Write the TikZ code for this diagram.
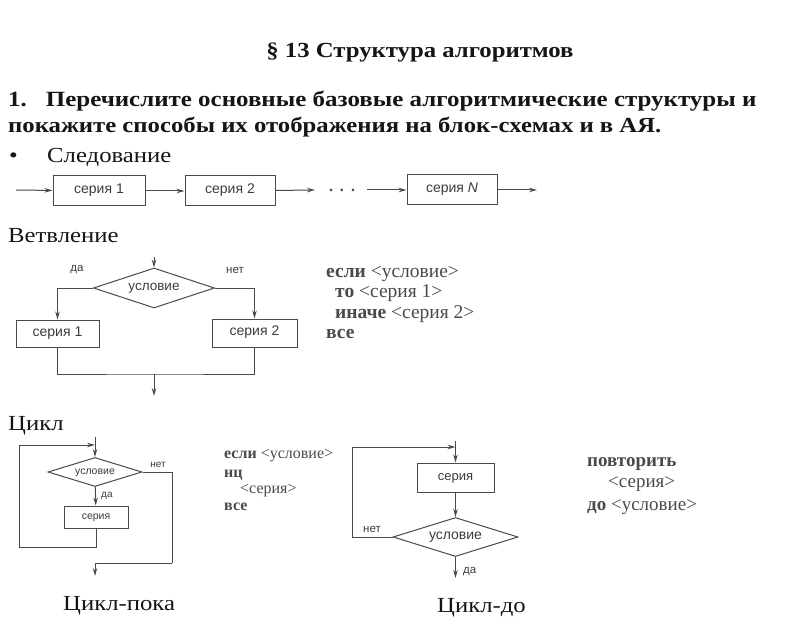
\documentclass[tikz,border=0pt]{standalone}
\usepackage{fontspec}
\setmainfont{Liberation Serif}
\newfontfamily\bookfont[FakeStretch=1.15]{Liberation Serif}
\newfontfamily\diagfont{Liberation Sans}
\usepackage{tikz}
\usetikzlibrary{positioning,shapes.geometric,arrows.meta}
\definecolor{ink}{HTML}{151515}
\definecolor{wire}{HTML}{4A4A4A}
\definecolor{tag}{HTML}{3C3C3C}
\definecolor{code}{HTML}{4A4A4A}
\tikzset{
  blk/.style={draw=wire,line width=1pt,inner sep=0pt,text height=0.62em,text depth=0.05em,text=tag,font=\diagfont\fontsize{14}{16}\selectfont},
  cnd/.style={draw=wire,line width=1pt,diamond,aspect=3,inner sep=0pt,text height=0.62em,text depth=0.05em,text=tag,font=\diagfont\fontsize{13.5}{15}\selectfont},
  flow/.style={wire,line width=1pt,-{Stealth[length=8pt,width=4.5pt]}},
  wirel/.style={wire,line width=1pt},
  tagl/.style={text=tag,font=\diagfont\fontsize{11.5}{13}\selectfont,inner sep=0pt},
  head/.style={anchor=base west,text=ink,inner sep=0pt,font=\bookfont\fontsize{21.5}{24}\selectfont},
  codel/.style={anchor=base west,text=code,inner sep=0pt,font=\fontsize{19.5}{22}\selectfont},
}
\begin{document}
\begin{tikzpicture}[x=1pt,y=-1pt]
      \useasboundingbox[fill=white](0,0) rectangle(794,644);
      % heading and question
      \node[anchor=base,text=ink,font=\bookfont\bfseries\fontsize{21.5}{26}\selectfont] (title) at (420,58) {§ 13 Структура алгоритмов};
      \node[head,font=\bookfont\bfseries\fontsize{21.7}{24}\selectfont] (q1) at (8,107) {1.\hspace{19pt}Перечислите основные базовые алгоритмические структуры и};
      \node[head,font=\bookfont\bfseries\fontsize{21.5}{24}\selectfont] (q2) at (8,133) {покажите способы их отображения на блок-схемах и в АЯ.};
      \node[head] (bul) at (9,163) {•}; \node[head] (hseq) at (47,163) {Следование};
      % sequence
      \coordinate (in0) at (16,190); \coordinate (out0) at (537,190);
      \node[blk,minimum width=92pt,minimum height=30pt] (s1) at (99,191) {серия 1};
      \node[blk,minimum width=90pt,minimum height=30pt] (s2) at (230,191) {серия 2};
      \node[blk,minimum width=90pt,minimum height=30pt] (sN) at (452,190) {серия \textit{N}};
      \coordinate (d1) at (315,190); \coordinate (d2) at (367,190);
      \node[text=wire,font=\bfseries\fontsize{16}{16}\selectfont,inner sep=0pt] (dots) at (342,190) {.\hspace{7pt}.\hspace{7pt}.};
      \draw[flow](in0)--(s1); \draw[flow](s1)--(s2); \draw[flow](s2)--(d1);
      \draw[flow](d2)--(sN); \draw[flow](sN)--(out0);
      % branching
      \node[head] (hbr) at (8,243) {Ветвление};
      \node[cnd,minimum width=121pt,minimum height=40pt] (bc) at (154,288) {условие};
      \node[blk,minimum width=83pt,minimum height=27pt] (b1) at (57.5,333.5) {серия 1};
      \node[blk,minimum width=85pt,minimum height=28pt] (b2) at (254.5,333) {серия 2};
      \node[tagl] (byes) at (77,270) {да}; \node[tagl] (bno) at (235,270) {нет};
      \coordinate (bin) at (154,257); \coordinate (bj) at (154,374); \coordinate (bout) at (154,396);
      \draw[flow](bin)--(bc); \draw[flow](bc.west)-|(b1); \draw[flow](bc.east)-|(b2);
      \draw[wirel](b1)|-(bj)-|(b2); \draw[flow](bj)--(bout);
      \node[codel] (bk1) at (326,277) {\textbf{если} <условие>};
      \node[codel] (bk2) at (335,297.5) {\textbf{то} <серия 1>};
      \node[codel] (bk3) at (335,318) {\textbf{иначе} <серия 2>};
      \node[codel] (bk4) at (326,338.5) {\textbf{все}};
      % loops
      \node[head] (hcy) at (8,430) {Цикл};
      \node[cnd,minimum width=94pt,minimum height=29pt,font=\diagfont\fontsize{10.5}{12}\selectfont] (wc) at (95,472) {условие};
      \node[blk,minimum width=64pt,minimum height=22pt,font=\diagfont\fontsize{10.5}{12}\selectfont] (wb) at (96,517) {серия};
      \coordinate (wtop) at (95,437); \coordinate (wjoin) at (95,445); \coordinate (wl) at (19,547);
      \coordinate (wr) at (172,563); \coordinate (wout) at (95,576);
      \draw[flow](wtop)--(wc); \draw[flow](wc)--(wb);
      \draw[flow](wb.south)|-(wl)|-(wjoin);
      \draw[wirel](wc.east)-|(wr); \draw[flow](wr)-|(wout);
      \node[tagl,anchor=west,font=\diagfont\fontsize{10}{12}\selectfont] (wyes) at (101,496) {да};
      \node[tagl,font=\diagfont\fontsize{10}{12}\selectfont] (wno) at (158,465) {нет};
      \node[codel,font=\fontsize{16}{18}\selectfont] (wk1) at (224,458) {\textbf{если} <условие>};
      \node[codel,font=\fontsize{16}{18}\selectfont] (wk2) at (224,477) {\textbf{нц}};
      \node[codel,font=\fontsize{16}{18}\selectfont] (wk3) at (240,493) {<серия>};
      \node[codel,font=\fontsize{16}{18}\selectfont] (wk4) at (224,510) {\textbf{все}};
      \node[head] (hwh) at (63,610) {Цикл-пока};
      \node[blk,minimum width=77pt,minimum height=29pt,font=\diagfont\fontsize{13}{15}\selectfont] (ub) at (455.5,477.5) {серия};
      \node[cnd,minimum width=125pt,minimum height=39pt,font=\diagfont\fontsize{14}{16}\selectfont] (uc) at (455.5,537) {условие};
      \coordinate (utop) at (455.5,441); \coordinate (ujoin) at (455.5,447);
      \coordinate (ul) at (352,537); \coordinate (uout) at (455.5,578);
      \draw[flow](utop)--(ub); \draw[flow](ub)--(uc); \draw[flow](uc)--(uout);
      \draw[flow](uc.west)--(ul)|-(ujoin);
      \node[tagl,anchor=west] (uyes) at (463,572) {да}; \node[tagl] (uno) at (372,529) {нет};
      \node[codel,font=\fontsize{19}{21}\selectfont] (uk1) at (587,466) {\textbf{повторить}};
      \node[codel,font=\fontsize{19}{21}\selectfont] (uk2) at (608,487) {<серия>};
      \node[codel,font=\fontsize{19}{21}\selectfont] (uk3) at (587,510) {\textbf{до} <условие>};
      \node[head] (hun) at (437,612) {Цикл-до};
    \end{tikzpicture}
\end{document}
